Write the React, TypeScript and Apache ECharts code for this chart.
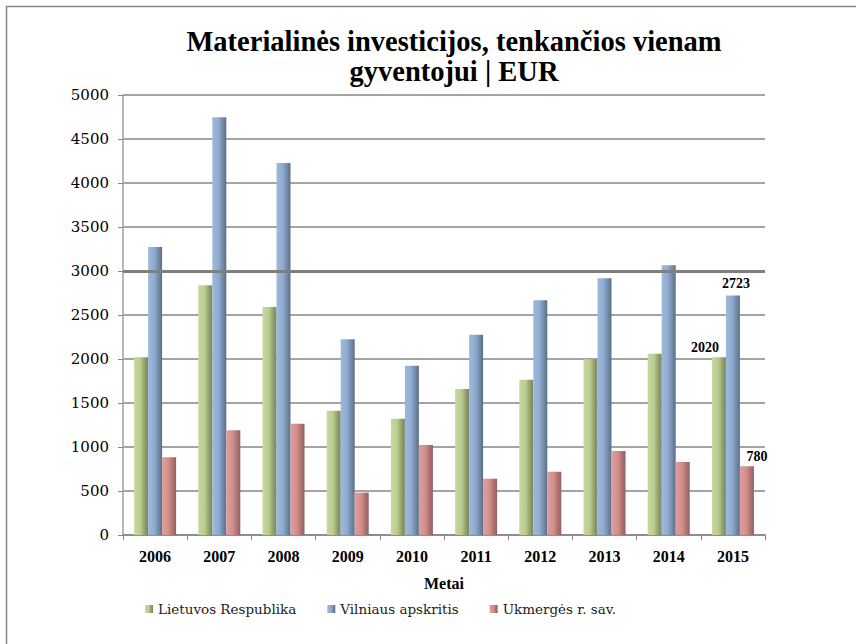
import React, { useEffect, useRef } from "react";
import * as echarts from "echarts";

const years = ["2006", "2007", "2008", "2009", "2010", "2011", "2012", "2013", "2014", "2015"];
const lietuva = [2020, 2837, 2591, 1413, 1322, 1659, 1765, 1997, 2061, 2020];
const vilnius = [3273, 4746, 4227, 2224, 1924, 2276, 2667, 2917, 3065, 2723];
const ukmerge = [883, 1190, 1265, 481, 1023, 640, 719, 955, 830, 780];
const seriesNames = ["Lietuvos Respublika", "Vilniaus apskritis", "Ukmergės r. sav."];
const yTicks = { min: 0, max: 5000, interval: 500 };

const FONT = "Liberation Serif, Times New Roman, serif";
const REG = "DejaVu Serif, serif";

function grad(c: string[]) {
  return new echarts.graphic.LinearGradient(0, 0, 1, 0, [
    { offset: 0, color: c[0] },
    { offset: 0.45, color: c[1] },
    { offset: 0.7, color: c[2] },
    { offset: 1, color: c[3] },
  ]);
}

function withLastLabel(arr: number[], offset: number[]) {
  return arr.map((v, i) =>
    i === arr.length - 1
      ? {
          value: v,
          label: {
            show: true,
            position: "top",
            offset,
            fontFamily: FONT,
            fontWeight: "bold",
            fontSize: 14,
            color: "#000",
          },
        }
      : v
  );
}

export default function App() {
  const ref = useRef<HTMLDivElement>(null);
  useEffect(() => {
    document.body.style.margin = "0";
    const chart = echarts.init(ref.current!, null, { renderer: "svg" });
    const barBase = {
      type: "bar" as const,
      barWidth: 14,
      barGap: "0%",
      barCategoryGap: "33%",
    };
    chart.setOption({
      animation: false,
      backgroundColor: "#fff",
      textStyle: { fontFamily: FONT },
      title: {
        text: "Materialinės investicijos, tenkančios vienam\ngyventojui | EUR",
        left: 449,
        top: 21,
        textAlign: "center",
        textStyle: {
          fontFamily: FONT,
          fontWeight: "bold",
          fontSize: 28.5,
          lineHeight: 30,
          color: "#000",
        },
      },
      graphic: [
        {
          type: "rect",
          shape: { x: 6.5, y: 6.5, width: 1000, height: 1000 },
          style: { fill: "none", stroke: "#868686", lineWidth: 1.5 },
          silent: true,
          z: -1,
        },
      ],
      legend: {
        left: 140,
        top: 597,
        itemWidth: 8,
        itemHeight: 8,
        itemGap: 31,
        icon: "rect",
        textStyle: {
          fontFamily: REG,
          fontSize: 13.5,
          color: "#222",
        },
        data: seriesNames,
      },
      grid: { left: 123, right: 91, top: 95, bottom: 109 },
      xAxis: {
        type: "category",
        data: years,
        name: "Metai",
        nameLocation: "middle",
        nameGap: 40,
        nameTextStyle: { fontFamily: FONT, fontWeight: "bold", fontSize: 16, color: "#000" },
        axisLine: { lineStyle: { color: "#868686", width: 1.5 } },
        axisTick: { show: true, length: 5, lineStyle: { color: "#868686" } },
        axisLabel: { fontFamily: FONT, fontWeight: "bold", fontSize: 16, color: "#000", margin: 13 },
      },
      yAxis: {
        type: "value",
        min: yTicks.min,
        max: yTicks.max,
        interval: yTicks.interval,
        axisLine: { show: true, lineStyle: { color: "#a0a0a0", width: 1.5 } },
        axisTick: { show: true, length: 5, lineStyle: { color: "#868686" } },
        axisLabel: {
          fontFamily: REG,
          fontSize: 15,
          color: "#000",
          margin: 14,
          formatter: (v: number) => String(v),
        },
        splitLine: { lineStyle: { color: "#868686", width: 1.5 } },
      },
      series: [
        {
          ...barBase,
          name: seriesNames[0],
          data: withLastLabel(lietuva, [-14, 2]),
          itemStyle: { color: grad(["#c6d99e", "#bacd90", "#98a874", "#77845a"]) },
          markLine: {
            silent: true,
            symbol: "none",
            label: { show: false },
            lineStyle: { color: "#7f7f7f", width: 3, type: "solid" },
            data: [{ yAxis: 3000 }],
          },
        },
        {
          ...barBase,
          name: seriesNames[1],
          data: withLastLabel(vilnius, [3, 0]),
          itemStyle: { color: grad(["#9dbadd", "#8fabd0", "#7890b0", "#5c6e88"]) },
        },
        {
          ...barBase,
          name: seriesNames[2],
          data: withLastLabel(ukmerge, [10, 2]),
          itemStyle: { color: grad(["#de9e9c", "#d38f8d", "#b57876", "#90605e"]) },
        },
      ],
    });
    return () => chart.dispose();
  }, []);
  return <div ref={ref} style={{ width: 856, height: 644 }} />;
}
